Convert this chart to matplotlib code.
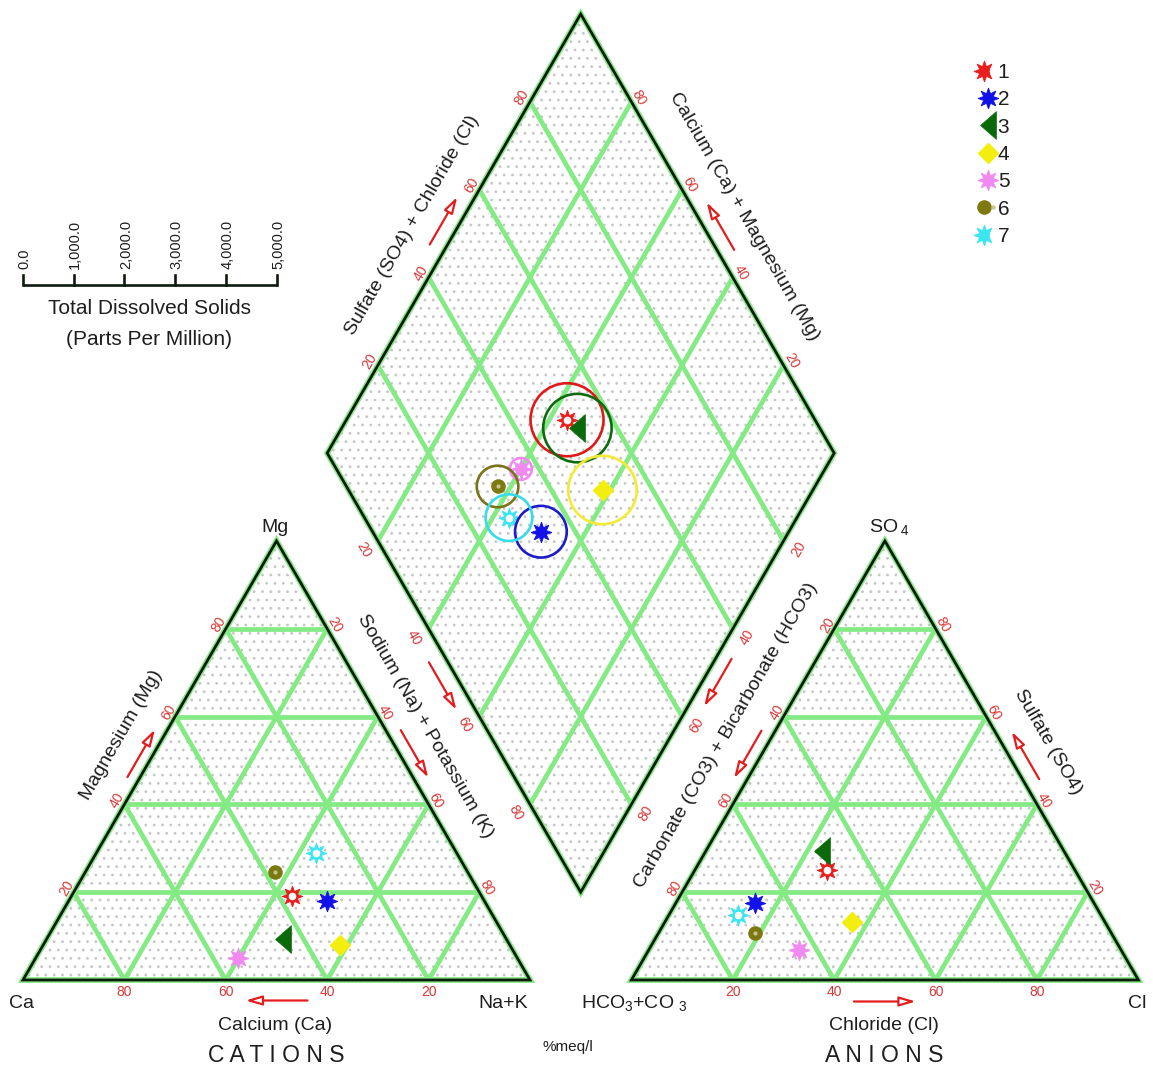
import numpy as np
import matplotlib
matplotlib.use("Agg")
import matplotlib.pyplot as plt
from matplotlib.patches import Polygon, Circle
from matplotlib.lines import Line2D
from matplotlib.path import Path
from matplotlib.legend_handler import HandlerTuple

# ---------------- data (percent meq/l) ----------------
samples = ["1", "2", "3", "4", "5", "6", "7"]
ca = [37.3, 31.0, 44.1, 33.5, 55.0, 37.9, 27.8]
mg = [19.2, 17.9, 9.4, 8.0, 5.0, 24.7, 29.0]
na_k = [43.5, 51.1, 46.5, 58.5, 40.0, 37.4, 43.2]
hco3 = [48.9, 66.8, 47.8, 49.9, 63.6, 70.2, 71.5]
so4 = [25.0, 17.5, 29.4, 13.3, 6.8, 10.7, 14.8]
cl = [26.1, 15.7, 22.8, 36.8, 29.6, 19.1, 13.7]
tds = [1440, 1020, 1350, 1350, 430, 820, 920]
grid_ticks = [20, 40, 60, 80]
tds_ticks = [0, 1000, 2000, 3000, 4000, 5000]

# ---------------- style ----------------
plt.rcParams["font.family"] = ["Liberation Sans", "DejaVu Sans"]
plt.rcParams["mathtext.fontset"] = "custom"
plt.rcParams["mathtext.rm"] = "Liberation Sans"
plt.rcParams["mathtext.it"] = "Liberation Sans:italic"
plt.rcParams["mathtext.bf"] = "Liberation Sans:bold"
plt.rcParams["hatch.color"] = "#c6c6c6"
plt.rcParams["hatch.linewidth"] = 0.8

GREEN = "#84ea84"
EDGE = "#0f1a0f"
TICKC = "#d83838"
ARROWC = "#e31d1d"
TXT = "#1e1e1e"

W, Hpx = 1153, 1072
S = 507.0            # pixels per triangle side
X0, Y0 = 23.0, 980.0  # pixel position of the Ca corner
PX = 1.0 / S
H = np.sqrt(3) / 2
GAP = 0.2

fig = plt.figure(figsize=(W / 100, Hpx / 100), dpi=100)
ax = fig.add_axes([0, 0, 1, 1])
ax.set_xlim(-X0 / S, (W - X0) / S)
ax.set_ylim((Y0 - Hpx) / S, Y0 / S)
ax.axis("off")


def pxy(xp, yp):
    return ((xp - X0) / S, (Y0 - yp) / S)


def cat_pt(c, m, n):
    t = c + m + n
    m, n = m / t, n / t
    return np.array([n + m / 2, m * H])


def an_pt(h, s, c):
    t = h + s + c
    s, c = s / t, c / t
    return np.array([1 + GAP + c + s / 2, s * H])


LEFT = np.array([0.5 + GAP / 2, H * (1 + GAP)])


def dia_pt(n, s):
    return LEFT + np.array([0.5 * (n + s), H * (s - n)])


# ---------------- frames ----------------
cat_poly = [cat_pt(1, 0, 0), cat_pt(0, 0, 1), cat_pt(0, 1, 0)]
an_poly = [an_pt(1, 0, 0), an_pt(0, 0, 1), an_pt(0, 1, 0)]
dia_poly = [dia_pt(0, 0), dia_pt(1, 0), dia_pt(1, 1), dia_pt(0, 1)]

for poly in (cat_poly, an_poly, dia_poly):
    ax.add_patch(Polygon(poly, closed=True, facecolor="white", edgecolor="#c6c6c6",
                         lw=0, hatch="..", zorder=1))

gl = dict(color=GREEN, lw=3.4, solid_capstyle="butt", zorder=2)
for tv in grid_ticks:
    t = tv / 100
    segs = [
        (cat_pt(1 - t, t, 0), cat_pt(0, t, 1 - t)),
        (cat_pt(1 - t, 0, t), cat_pt(0, 1 - t, t)),
        (cat_pt(t, 0, 1 - t), cat_pt(t, 1 - t, 0)),
        (an_pt(1 - t, t, 0), an_pt(0, t, 1 - t)),
        (an_pt(1 - t, 0, t), an_pt(0, 1 - t, t)),
        (an_pt(t, 0, 1 - t), an_pt(t, 1 - t, 0)),
        (dia_pt(t, 0), dia_pt(t, 1)),
        (dia_pt(0, t), dia_pt(1, t)),
    ]
    for a, b in segs:
        ax.plot([a[0], b[0]], [a[1], b[1]], **gl)

for poly in (cat_poly, an_poly, dia_poly):
    ax.add_patch(Polygon(poly, closed=True, fill=False, edgecolor=GREEN, lw=4.2,
                         joinstyle="miter", zorder=3))
    ax.add_patch(Polygon(poly, closed=True, fill=False, edgecolor=EDGE, lw=2.0,
                         joinstyle="miter", zorder=3.1))

# ---------------- tick labels ----------------
NL = np.array([-H, 0.5])    # outward normal of a left-rising edge
NR = np.array([H, 0.5])     # outward normal of a right-falling edge
NLL = np.array([-H, -0.5])
NLR = np.array([H, -0.5])


def tlabel(p, txt, nrm, off, rot):
    q = p + nrm * off * PX
    ax.text(q[0], q[1], txt, color=TICKC, fontsize=10, rotation=rot,
            rotation_mode="anchor", ha="center", va="center", zorder=4)


for tv in grid_ticks:
    t = tv / 100
    # cations
    tlabel(cat_pt(t, 0, 1 - t), str(tv), np.array([0, -1.0]), 12, 0)
    tlabel(cat_pt(1 - t, t, 0), str(tv), NL, 8, 60)
    tlabel(cat_pt(0, 1 - t, t), str(tv), NR, 8, -60)
    # anions
    tlabel(an_pt(1 - t, 0, t), str(tv), np.array([0, -1.0]), 12, 0)
    tlabel(an_pt(1 - t, t, 0), str(100 - tv), NL, 8, 60)
    tlabel(an_pt(0, t, 1 - t), str(tv), NR, 8, -60)
    # diamond
    tlabel(dia_pt(0, t), str(tv), NL, 9, 60)
    tlabel(dia_pt(1 - t, 1), str(tv), NR, 9, -60)
    tlabel(dia_pt(t, 0), str(tv), NLL, 17, -60)
    tlabel(dia_pt(1, t), str(100 - tv), NLR, 17, 60)

# ---------------- arrows ----------------
def arrow(p0, d, nrm, off, shift, length=55):
    d = np.asarray(d, float)
    d = d / np.linalg.norm(d)
    c = p0 + nrm * off * PX + d * shift * PX
    tail = c - d * length / 2 * PX
    tip = c + d * length / 2 * PX
    ax.annotate("", xy=tip, xytext=tail,
                arrowprops=dict(arrowstyle="-|>,head_length=0.75,head_width=0.22",
                                mutation_scale=13, ec=ARROWC, fc="white", lw=1.6,
                                shrinkA=0, shrinkB=0), zorder=4)


UP_L = (0.5, H)
DN_R = (0.5, -H)
UP_Lft = (-0.5, H)
DN_L = (-0.5, -H)
arrow(cat_pt(0.5, 0.5, 0), UP_L, NL, 11, 2)
arrow(cat_pt(0, 0.5, 0.5), DN_R, NR, 13, 0)
arrow(cat_pt(0.5, 0, 0.5), (-1, 0), np.array([0, -1.0]), 20.5, 0, 62)
arrow(dia_pt(0.5, 0), DN_R, NLL, 16.5, 6)
arrow(dia_pt(0, 0.5), UP_L, NL, 15.5, 6)
arrow(dia_pt(0.5, 1), UP_Lft, NR, 15, 0)
arrow(dia_pt(1, 0.5), DN_L, NLR, 14, 3.5)
arrow(an_pt(0.5, 0.5, 0), DN_L, NL, 12, 0)
arrow(an_pt(0, 0.5, 0.5), UP_Lft, NR, 14.5, -2.5)
arrow(an_pt(0.5, 0, 0.5), (1, 0), np.array([0, -1.0]), 21.5, 0, 62)

# ---------------- axis titles ----------------
def title(p0, d, nrm, off, shift, txt, rot, size=14):
    d = np.asarray(d, float)
    d = d / np.linalg.norm(d)
    c = p0 + nrm * off * PX + d * shift * PX
    ax.text(c[0], c[1], txt, fontsize=size, color=TXT, rotation=rot,
            rotation_mode="anchor", ha="center", va="center", zorder=4)


title(cat_pt(0.5, 0.5, 0), UP_L, NL, 37.5, 7.5, "Magnesium (Mg)", 60)
title(cat_pt(0, 0.5, 0.5), DN_R, NR, 36, -19, "Sodium (Na) + Potassium (K)", -60)
title(dia_pt(0, 0.5), UP_L, NL, 40, -14, "Sulfate (SO4) + Chloride (Cl)", 60)
title(dia_pt(0.5, 1), DN_R, NR, 41, 3.5, "Calcium (Ca) + Magnesium (Mg)", -60)
title(dia_pt(1, 0.5), UP_L, NLR, 47.5, -45, "Carbonate (CO3) + Bicarbonate (HCO3)", 60)
title(an_pt(0, 0.5, 0.5), DN_R, NR, 40.5, 2, "Sulfate (SO4)", -60)

# corner & bottom labels
def ptext(xp, yp, txt, size=14, ha="center", **kw):
    x, y = pxy(xp, yp)
    ax.text(x, y, txt, fontsize=size, color=TXT, ha=ha, va="center", zorder=4, **kw)


ptext(22, 1003, "Ca")
ptext(528, 1003, "Na+K", ha="right")
ptext(275, 527, "Mg")
ptext(581, 1003, r"HCO$_3$+CO $_3$", ha="left")
ptext(1137, 1003, "Cl")
ptext(889, 527, r"SO$\,_4$")
ptext(275, 1025, "Calcium (Ca)")
ptext(884, 1025, "Chloride (Cl)")
ptext(276, 1055, "C A T I O N S", size=16.5)
ptext(884, 1055, "A N I O N S", size=16.5)
ptext(568, 1047, "%meq/l", size=11)

# ---------------- TDS scale bar ----------------
bar_len = 0.5
_, vb = pxy(0, 285)
ax.plot([0, bar_len], [vb, vb], color=EDGE, lw=1.9, solid_capstyle="butt", zorder=4)
for tv in tds_ticks:
    x = tv / tds_ticks[-1] * bar_len
    ax.plot([x, x], [vb, vb + 10 * PX], color=EDGE, lw=1.9, zorder=4)
    ax.text(x + 1.5 * PX, vb + 16 * PX, f"{tv:,.1f}", fontsize=10.5, color=TXT,
            rotation=90, ha="center", va="bottom", zorder=4)
ptext(149, 309, "Total Dissolved Solids", size=15)
ptext(149, 339, "(Parts Per Million)", size=15)

# ---------------- markers ----------------
tri_path = Path([(0.57, 1.0), (0.57, -1.0), (-0.57, 0.0), (0.57, 1.0)],
                [Path.MOVETO, Path.LINETO, Path.LINETO, Path.CLOSEPOLY])
marker_colors = ["#ea1c1c", "#1212e8", "#0a6a0a", "#f4ee10", "#f08af0", "#7e7810", "#3ae6f2"]
circle_colors = ["#e01818", "#1c1cc8", "#0e6a0e", "#f2ea34", "#f08af0", "#7a7418", "#36dcec"]
kinds = ["sun", "star", "tri", "diamond", "star", "dot", "sun"]


def layers(kind, c):
    if kind == "sun":
        return [dict(marker=(8, 1, 0), ms=15, mfc=c, mec=c, mew=0.6),
                dict(marker="o", ms=5.5, mfc="white", mec="white", mew=0)]
    if kind == "star":
        return [dict(marker=(8, 1, 0), ms=15, mfc=c, mec=c, mew=0.6)]
    if kind == "tri":
        return [dict(marker=tri_path, ms=20, mfc=c, mec=c, mew=0.5)]
    if kind == "diamond":
        return [dict(marker="D", ms=10, mfc=c, mec=c, mew=1.0)]
    return [dict(marker="o", ms=10.5, mfc=c, mec=c, mew=0),
            dict(marker="o", ms=3, mfc="#c8c48e", mec="#c8c48e", mew=0)]


for i in range(len(samples)):
    pc = cat_pt(ca[i], mg[i], na_k[i])
    pa = an_pt(hco3[i], so4[i], cl[i])
    nfrac = na_k[i] / (ca[i] + mg[i] + na_k[i])
    sfrac = (so4[i] + cl[i]) / (hco3[i] + so4[i] + cl[i])
    pd = dia_pt(nfrac, sfrac)
    for p in (pc, pa, pd):
        for lay in layers(kinds[i], marker_colors[i]):
            ax.plot([p[0]], [p[1]], ls="none", zorder=6, **lay)
    r = tds[i] / tds_ticks[-1] * bar_len / 2
    ax.add_patch(Circle((pd[0], pd[1]), r, fill=False, ec=circle_colors[i], lw=1.9, zorder=7))

# ---------------- legend ----------------
handles = []
for i in range(len(samples)):
    handles.append(tuple(Line2D([], [], ls="none", **lay)
                         for lay in layers(kinds[i], marker_colors[i])))
leg = ax.legend(handles, samples, handler_map={tuple: HandlerTuple(ndivide=None, pad=0)},
                loc="upper left", bbox_to_anchor=(979 / W, 1 - 63 / Hpx),
                bbox_transform=fig.transFigure, frameon=False, fontsize=15,
                handlelength=0.9, handletextpad=0.0, labelspacing=0.4,
                borderpad=0, borderaxespad=0, numpoints=1)
for t in leg.get_texts():
    t.set_color(TXT)

fig.savefig("out.png", dpi=100, facecolor="white")
